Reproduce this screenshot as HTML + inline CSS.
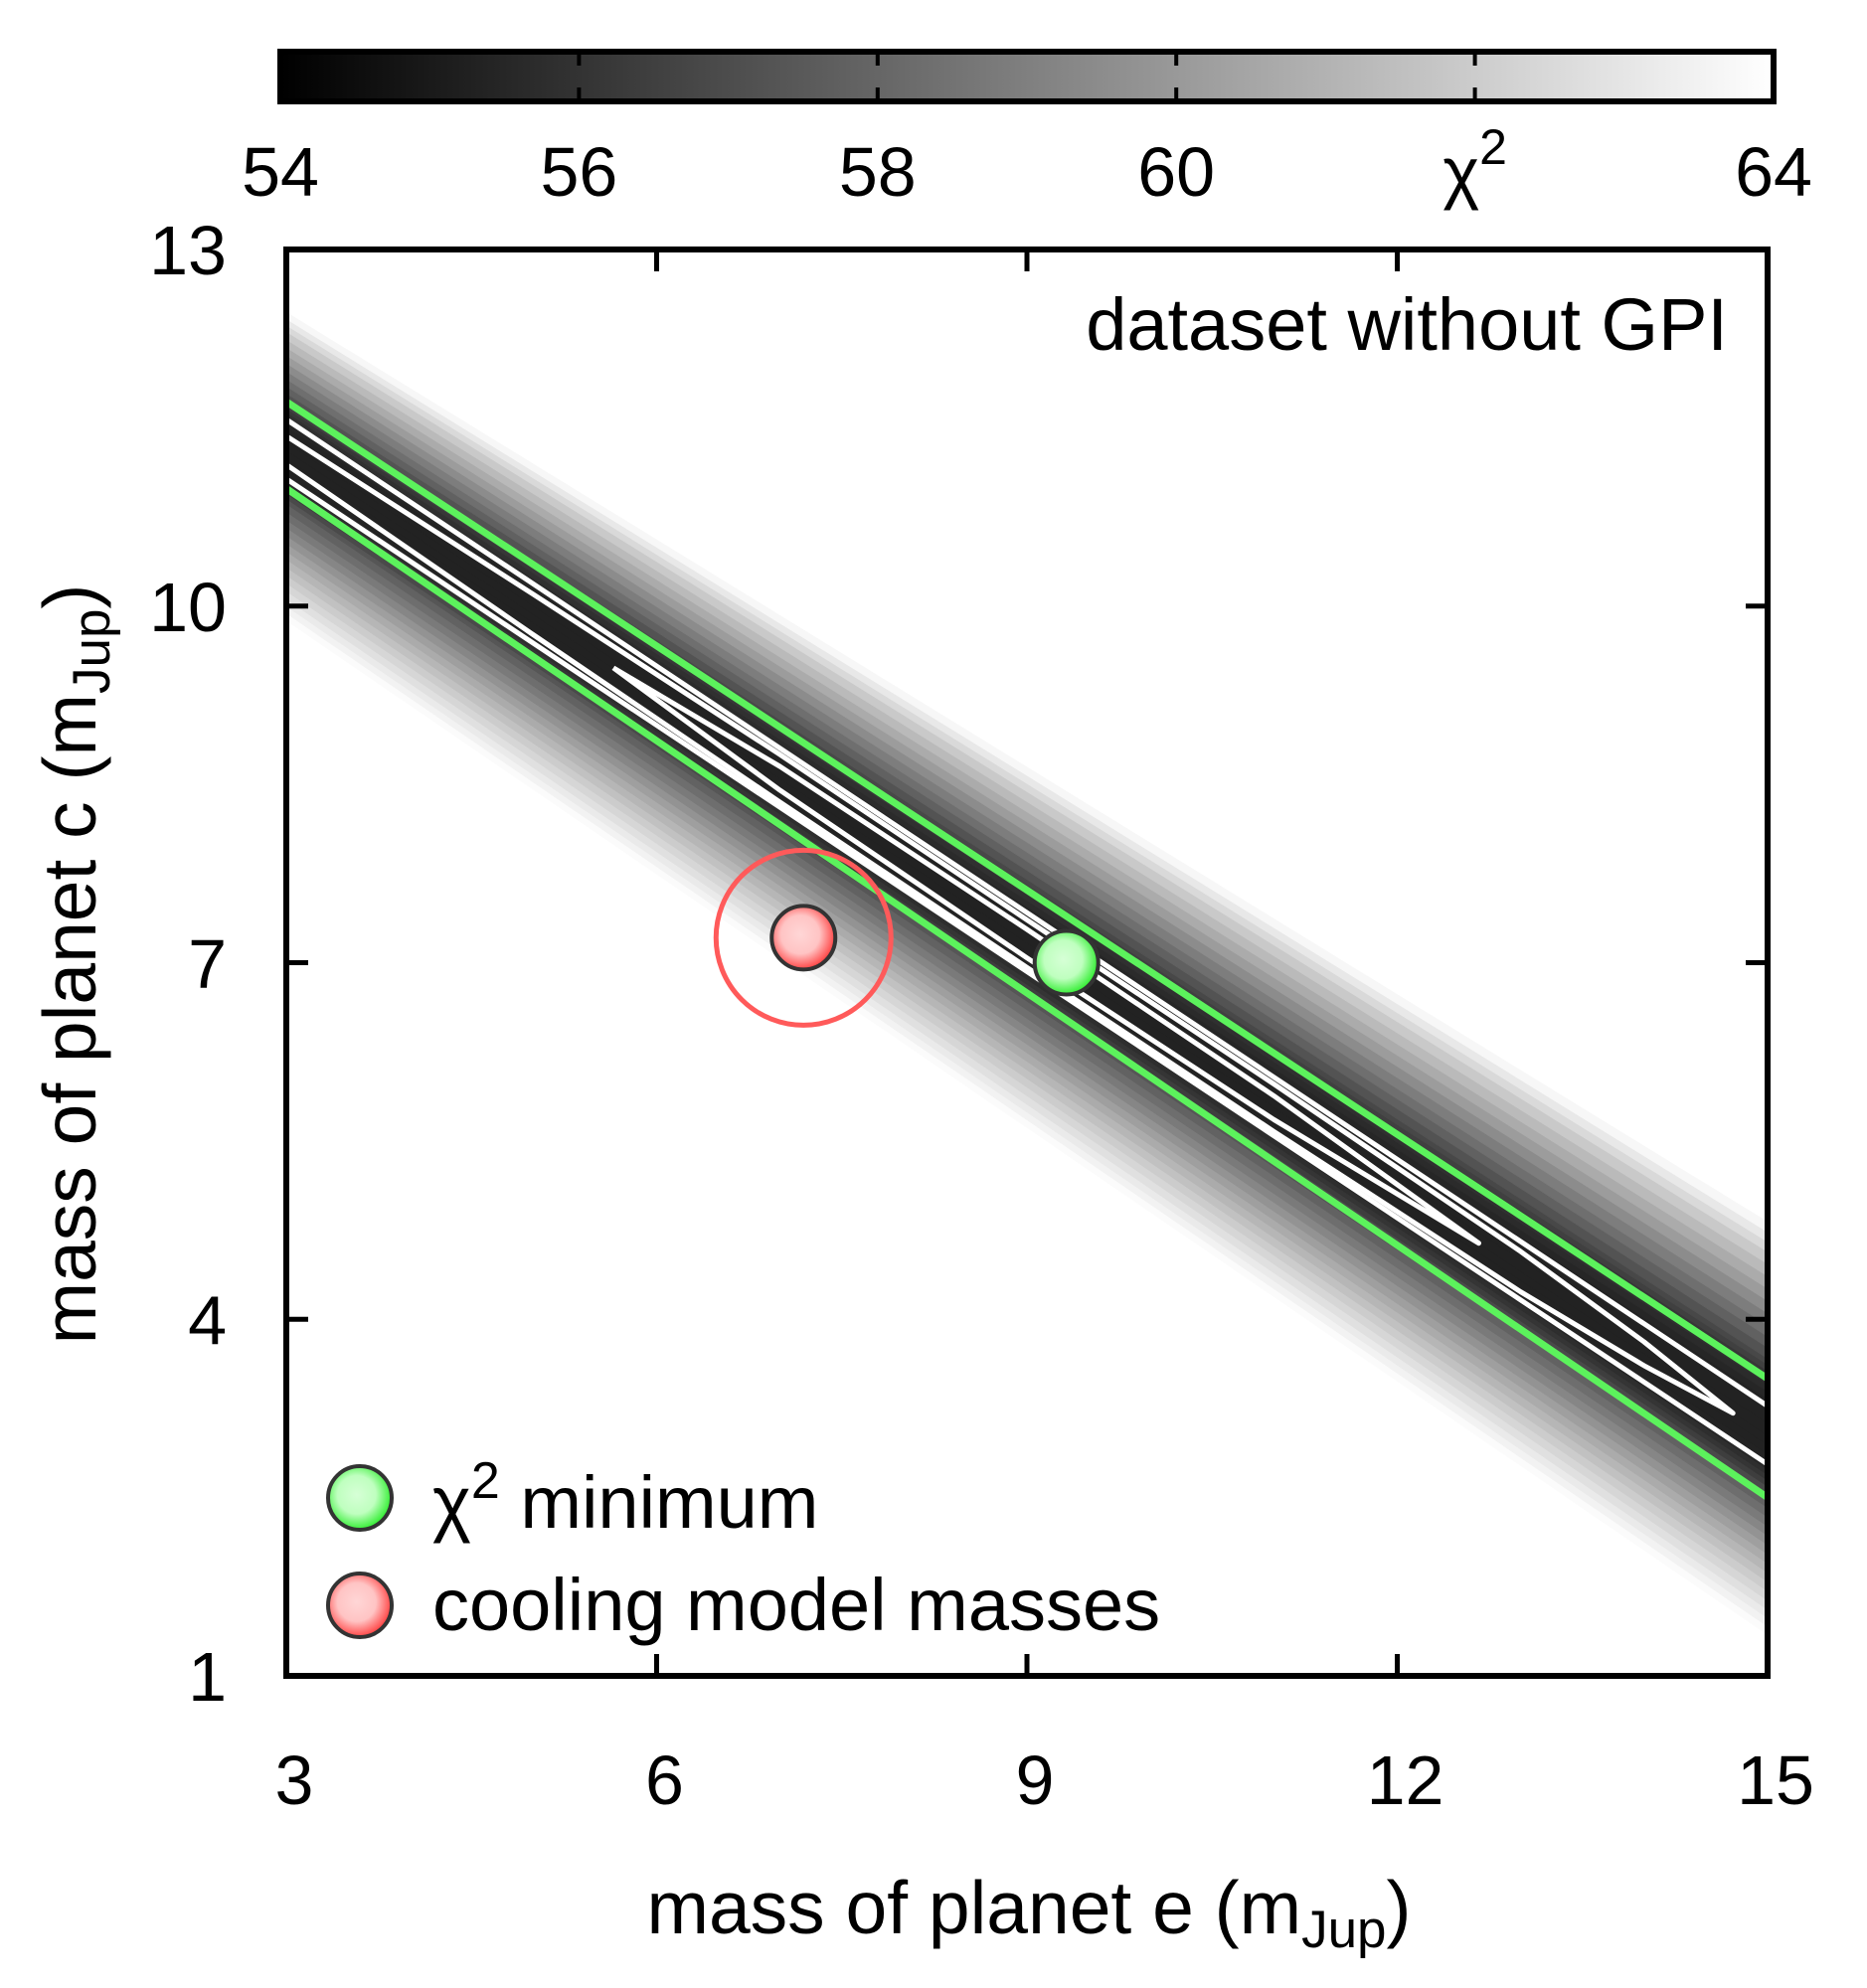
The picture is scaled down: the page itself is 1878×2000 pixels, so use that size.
<!DOCTYPE html>
<html><head><meta charset="utf-8">
<style>
html,body{margin:0;padding:0;background:#fff;}
svg{display:block;font-family:"Liberation Sans",sans-serif;}
</style></head>
<body>
<svg id="chart" width="1878" height="2000" viewBox="0 0 1878 2000" xmlns="http://www.w3.org/2000/svg">
<defs>
<linearGradient id="cbgrad" x1="0" x2="1" y1="0" y2="0"><stop offset="0" stop-color="#000"/><stop offset="1" stop-color="#fff"/></linearGradient>
<radialGradient id="ggrad" cx="0.45" cy="0.45" r="0.55"><stop offset="0" stop-color="#d6ffd6"/><stop offset="0.55" stop-color="#bfffbf"/><stop offset="1" stop-color="#33ee33"/></radialGradient>
<radialGradient id="rgrad" cx="0.45" cy="0.45" r="0.55"><stop offset="0" stop-color="#ffd6d6"/><stop offset="0.55" stop-color="#ffc4c4"/><stop offset="1" stop-color="#ff4444"/></radialGradient>
<clipPath id="plotclip"><rect x="288" y="251" width="1490" height="1435"/></clipPath>
</defs>
<g id="heat" clip-path="url(#plotclip)"></g>
<g id="contours" clip-path="url(#plotclip)"></g>
<g id="points"></g>
<g id="axes"></g>
<text x="1738" y="352" font-size="74" text-anchor="end">dataset without GPI</text>
<g>
  <circle cx="362" cy="1507" r="32" fill="url(#ggrad)" stroke="#333" stroke-width="4"/>
  <text x="435" y="1537" font-size="74">χ<tspan dy="-30" font-size="52">2</tspan><tspan dy="30"> minimum</tspan></text>
  <circle cx="362" cy="1615" r="32" fill="url(#rgrad)" stroke="#333" stroke-width="4"/>
  <text x="435" y="1640" font-size="74">cooling model masses</text>
</g>
<text x="1035" y="1945" font-size="75" text-anchor="middle">mass of planet e (m<tspan dy="14" font-size="53">Jup</tspan><tspan dy="-14">)</tspan></text>
<text transform="translate(96,970) rotate(-90)" font-size="75" text-anchor="middle">mass of planet c (m<tspan dy="14" font-size="53">Jup</tspan><tspan dy="-14">)</tspan></text>
<g id="colorbar"></g>
</svg>
<script>
// axis ranges and ticks
const xTicks = [3, 6, 9, 12, 15];
const yTicks = [1, 4, 7, 10, 13];
const cbTicks = [54, 56, 58, 60, 62, 64];
const cbLabels = ["54", "56", "58", "60", "χ2", "64"];
// chi2 profile across the valley (offset in mass c from valley centre at x=3)
const profileOffsets = [-1.43, -1.25, -1.05, -0.85, -0.65, -0.45, -0.32, -0.2, 0, 0.2, 0.32, 0.42, 0.6, 0.8, 1.0, 1.16];
const profileChi2 = [64, 63, 61.8, 60.5, 59, 57.6, 56.2, 55.4, 55.3, 55.4, 56.0, 57.0, 58.6, 60.4, 62.2, 64];
// valley centre line (mass c at x=3 and x=15)
const valleyX = [3, 15];
const valleyY = [11.31, 3.02];
// contours
const greenX = [3, 15];
const greenUpper = [11.72, 3.50];
const greenLower = [10.99, 2.50];
const outerX = [3, 15];
const outerUpper = [11.57, 3.27];
const outerLower = [11.07, 2.78];
const midX = [3, 5, 7, 9, 11, 13, 14, 14.72];
const midUpper = [11.43, 10.10, 8.75, 7.36, 5.98, 4.57, 3.81, 3.21];
const midLower = [11.19, 9.76, 8.35, 6.96, 5.58, 4.23, 3.61, 3.21];
const innerX = [5.65, 7, 9, 11, 12.66];
const innerUpper = [9.48, 8.65, 7.28, 5.88, 4.64];
const innerLower = [9.48, 8.45, 7.04, 5.68, 4.64];
// points
const minPoint = [9.32, 7.0];
const coolPoint = [7.19, 7.21];

const NS = "http://www.w3.org/2000/svg";
const PL = 288, PR = 1778, PT = 251, PB = 1686;
const sx = v => PL + (v - 3) / 12 * (PR - PL);
const sy = v => PB - (v - 1) / 12 * (PB - PT);
const CBL = 282, CBR = 1784, CBT = 52, CBB = 102;
const cbx = v => CBL + (v - 54) / 10 * (CBR - CBL);
const gray = c => { const g = Math.max(0, Math.min(255, Math.round((c - 54) / 10 * 255))); return `rgb(${g},${g},${g})`; };
function mk(tag, attrs, parent) { const e = document.createElementNS(NS, tag); for (const k in attrs) e.setAttribute(k, attrs[k]); parent.appendChild(e); return e; }

// heatmap strips
const heat = document.getElementById('heat');
const yc = x => valleyY[0] + (valleyY[1] - valleyY[0]) * (x - valleyX[0]) / (valleyX[1] - valleyX[0]);
const widen = (d, x) => { const f = (x - 3) / 12; return d > 0 ? d * (1 + 0.55 * f) : d * (1 + 0.17 * f); };
const SUB = 3;
for (let i = 0; i < profileOffsets.length - 1; i++) {
  for (let s = 0; s < SUB; s++) {
    const t0 = s / SUB, t1 = (s + 1) / SUB;
    const d0 = profileOffsets[i] + (profileOffsets[i + 1] - profileOffsets[i]) * t0;
    const d1 = profileOffsets[i] + (profileOffsets[i + 1] - profileOffsets[i]) * t1;
    const c = profileChi2[i] + (profileChi2[i + 1] - profileChi2[i]) * (t0 + t1) / 2;
    const pts = [[3, yc(3) + widen(d0, 3)], [15, yc(15) + widen(d0, 15)], [15, yc(15) + widen(d1, 15)], [3, yc(3) + widen(d1, 3)]]
      .map(p => sx(p[0]).toFixed(1) + ',' + sy(p[1]).toFixed(1)).join(' ');
    const pg = mk('polygon', { points: pts, fill: gray(c), stroke: gray(c), 'stroke-width': 0.8 }, heat);
    
    
  }
}

// contours
const cg = document.getElementById('contours');
function line(xs, ys, color, w, name) {
  const d = xs.map((x, i) => sx(x).toFixed(1) + ',' + sy(ys[i]).toFixed(1)).join(' ');
  const p = mk('polyline', { points: d, fill: 'none', stroke: color, 'stroke-width': w, 'stroke-linejoin': 'round' }, cg);
  
  
}
function loop(xs, up, lo, color, w, name) {
  const pts = xs.map((x, i) => [x, up[i]]).concat(xs.map((x, i) => [x, lo[i]]).reverse());
  const d = pts.map(p => sx(p[0]).toFixed(1) + ',' + sy(p[1]).toFixed(1)).join(' ');
  const p = mk('polyline', { points: d, fill: 'none', stroke: color, 'stroke-width': w, 'stroke-linejoin': 'round' }, cg);
  
  
}
line(greenX, greenUpper, '#5cf25c', 7, 'green-contour-upper');
line(greenX, greenLower, '#5cf25c', 7, 'green-contour-lower');
line(outerX, outerUpper, '#fff', 5, 'white-contour-outer-upper');
line(outerX, outerLower, '#fff', 5, 'white-contour-outer-lower');
loop(midX, midUpper, midLower, '#fff', 5, 'white-contour-middle');
loop(innerX, innerUpper, innerLower, '#fff', 5, 'white-contour-inner');

// points
const pg = document.getElementById('points');
const ring = mk('circle', { cx: sx(coolPoint[0]), cy: sy(coolPoint[1]), r: 88, fill: 'none', stroke: '#ff5a5a', 'stroke-width': 5 }, pg);


const rp = mk('circle', { cx: sx(coolPoint[0]), cy: sy(coolPoint[1]), r: 32, fill: 'url(#rgrad)', stroke: '#333', 'stroke-width': 4 }, pg);


const gp = mk('circle', { cx: sx(minPoint[0]), cy: sy(minPoint[1]), r: 32, fill: 'url(#ggrad)', stroke: '#333', 'stroke-width': 4 }, pg);



// axes
const ax = document.getElementById('axes');
const frame = mk('rect', { x: PL, y: PT, width: PR - PL, height: PB - PT, fill: 'none', stroke: '#000', 'stroke-width': 6 }, ax);


xTicks.forEach((v, i) => {
  const x = sx(v);
  if (i > 0 && i < xTicks.length - 1) {
    mk('line', { x1: x, y1: PB, x2: x, y2: PB - 22, stroke: '#000', 'stroke-width': 5 }, ax);
    mk('line', { x1: x, y1: PT, x2: x, y2: PT + 22, stroke: '#000', 'stroke-width': 5 }, ax);
  }
  const t = mk('text', { x: x + 8, y: 1815, 'font-size': 70, 'text-anchor': 'middle' }, ax);
  t.textContent = String(v);
  
  
});
yTicks.forEach((v, i) => {
  const y = sy(v);
  if (i > 0 && i < yTicks.length - 1) {
    mk('line', { x1: PL, y1: y, x2: PL + 22, y2: y, stroke: '#000', 'stroke-width': 5 }, ax);
    mk('line', { x1: PR, y1: y, x2: PR - 22, y2: y, stroke: '#000', 'stroke-width': 5 }, ax);
  }
  const t = mk('text', { x: 228, y: y + 25, 'font-size': 70, 'text-anchor': 'end' }, ax);
  t.textContent = String(v);
  
  
});

// colorbar
const cb = document.getElementById('colorbar');
const cbr = mk('rect', { x: CBL, y: CBT, width: CBR - CBL, height: CBB - CBT, fill: 'url(#cbgrad)', stroke: '#000', 'stroke-width': 6 }, cb);


cbTicks.forEach((v, i) => {
  const x = cbx(v);
  if (i > 0 && i < cbTicks.length - 1) {
    mk('line', { x1: x, y1: CBT, x2: x, y2: CBT + 14, stroke: '#000', 'stroke-width': 4 }, cb);
    mk('line', { x1: x, y1: CBB, x2: x, y2: CBB - 14, stroke: '#000', 'stroke-width': 4 }, cb);
  }
  const t = mk('text', { x: x, y: 197, 'font-size': 70, 'text-anchor': 'middle' }, cb);
  const lab = cbLabels[i];
  if (lab === "χ2") {
    t.textContent = "χ";
    const sp = mk('tspan', { dy: -32, 'font-size': 50 }, t);
    sp.textContent = "2";
  } else {
    t.textContent = lab;
  }
  
  
});
</script>
</body></html>
